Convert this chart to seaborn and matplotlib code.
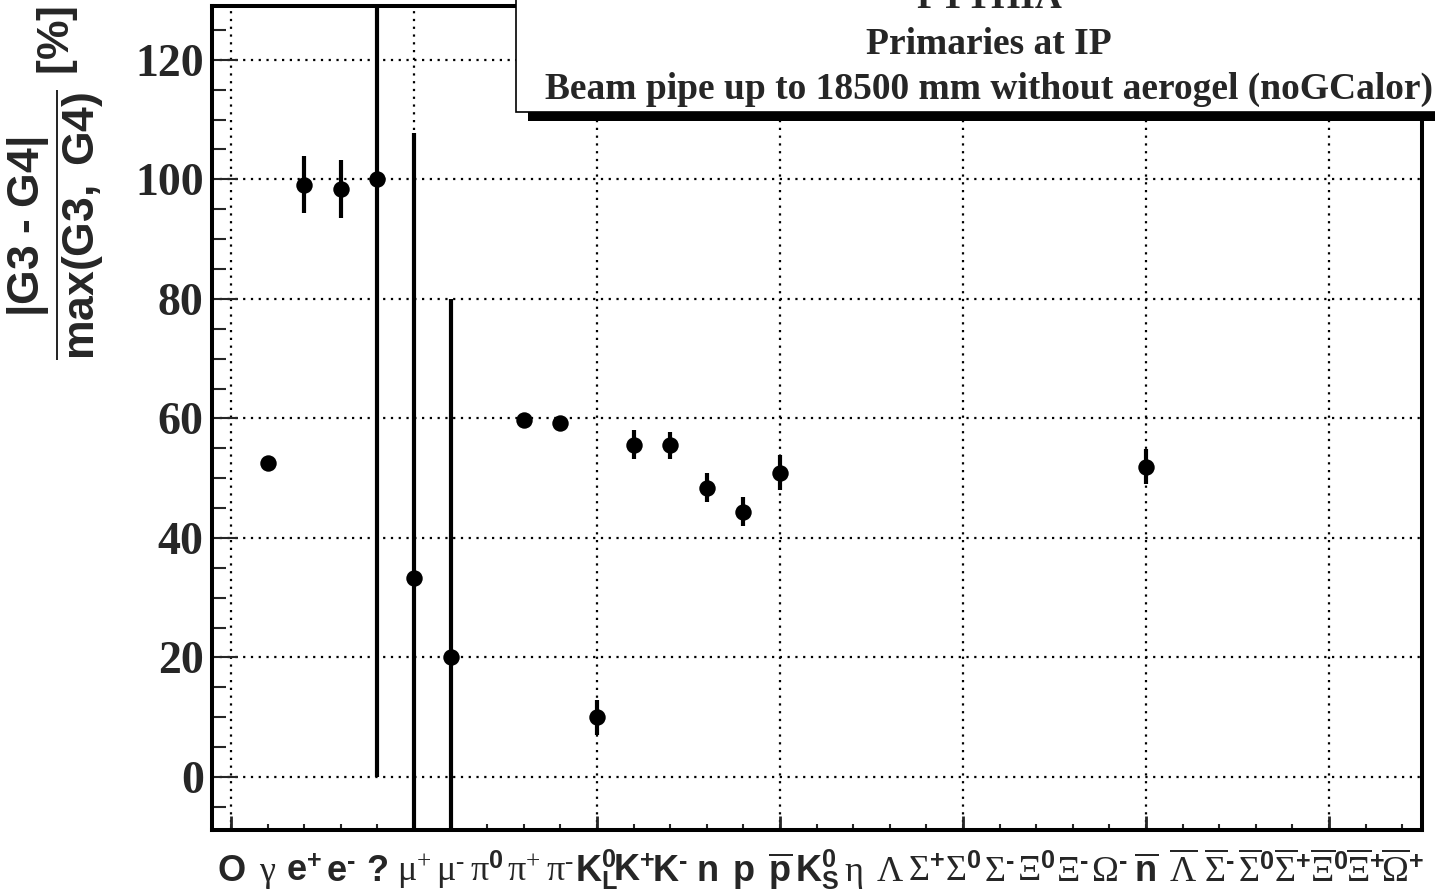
import numpy as np
import pandas as pd
import seaborn as sns
import matplotlib
matplotlib.use('Agg')
from matplotlib import pyplot as plt
from matplotlib.ticker import MultipleLocator
from matplotlib.patches import Rectangle

# particle species along the x axis (index = bin)
particles = ['O', 'gamma', 'e+', 'e-', '?', 'mu+', 'mu-', 'pi0', 'pi+', 'pi-',
             'K0L', 'K+', 'K-', 'n', 'p', 'pbar', 'K0S', 'eta', 'Lambda',
             'Sigma+', 'Sigma0', 'Sigma-', 'Xi0', 'Xi-', 'Omega-', 'nbar',
             'Lambdabar', 'Sigmabar-', 'Sigmabar0', 'Sigmabar+', 'Xibar0',
             'Xibar+', 'Omegabar+']
HY = '\u2010'  # short hyphen used as superscript minus
tick_labels = [r'$\mathbf{O}$', r'$\gamma$', r'$\mathbf{e}^{\mathbf{+}}$', r'$\mathbf{e}^{\mathbf{%s}}$' % HY,
               r'$\mathbf{?}$', r'$\mu^{+}$', r'$\mu^{%s}$' % HY, r'$\pi^{\mathbf{0}}$', r'$\pi^{+}$', r'$\pi^{%s}$' % HY,
               r'$\mathbf{K}_{\mathbf{L}}^{\mathbf{0}}$', r'$\mathbf{K}^{\mathbf{+}}$', r'$\mathbf{K}^{\mathbf{%s}}$' % HY,
               r'$\mathbf{n}$', r'$\mathbf{p}$', r'$\overline{\mathbf{p}}$',
               r'$\mathbf{K}_{\mathbf{S}}^{\mathbf{0}}$', r'$\eta$', r'$\Lambda$',
               r'$\Sigma^{\mathbf{+}}$', r'$\Sigma^{\mathbf{0}}$', r'$\Sigma^{\mathbf{%s}}$' % HY,
               r'$\Xi^{\mathbf{0}}$', r'$\Xi^{\mathbf{%s}}$' % HY, r'$\Omega^{\mathbf{%s}}$' % HY, r'$\overline{\mathbf{n}}$',
               r'$\overline{\Lambda}$', r'$\overline{\Sigma}^{\mathbf{%s}}$' % HY, r'$\overline{\Sigma}^{\mathbf{0}}$',
               r'$\overline{\Sigma}^{\mathbf{+}}$', r'$\overline{\Xi}^{\mathbf{0}}$', r'$\overline{\Xi}^{\mathbf{+}}$',
               r'$\overline{\Omega}^{\mathbf{+}}$']
nan = np.nan
# |G3 - G4| / max(G3, G4) in percent, and its error
asym = [nan, 52.5, 99.1, 98.4, 100.0, 33.3, 20.0, nan, 59.7, 59.3,
        10.0, 55.6, 55.5, 48.4, 44.4, 50.9, nan, nan, nan,
        nan, nan, nan, nan, nan, nan, 51.9,
        nan, nan, nan, nan, nan, nan, nan]
asym_err = [0, 0.5, 4.8, 4.8, 100.0, 74.5, 60.0, 0, 1.0, 1.0,
            2.9, 2.4, 2.3, 2.4, 2.4, 2.9, 0, 0, 0,
            0, 0, 0, 0, 0, 0, 2.9,
            0, 0, 0, 0, 0, 0, 0]

df = pd.DataFrame({'particle': particles, 'idx': np.arange(len(particles)),
                   'asym': asym, 'err': asym_err}).dropna()

sns.set_theme(style='white')
plt.rcParams['font.family'] = ['Liberation Serif', 'DejaVu Sans']
plt.rcParams['mathtext.fontset'] = 'custom'
plt.rcParams['mathtext.rm'] = 'Liberation Serif:weight=normal'
plt.rcParams['mathtext.it'] = 'Liberation Serif:weight=normal'
plt.rcParams['mathtext.bf'] = 'Liberation Sans:bold'
plt.rcParams['mathtext.default'] = 'rm'

W, H = 1435, 893
fig = plt.figure(figsize=(W / 100, H / 100), dpi=100)
ax = fig.add_axes([212 / W, 1 - 830 / H, 1210 / W, 824 / H])

ax.errorbar(df['idx'], df['asym'], yerr=df['err'], fmt='none', ecolor='black',
            elinewidth=3, capsize=0, zorder=2)
sns.scatterplot(data=df, x='idx', y='asym', color='black', s=140, linewidth=0,
                legend=False, zorder=3, ax=ax)

ax.set_xlim(-0.52, 32.54)
ax.set_ylim(-8.87, 129.0)

ax.set_xticks(np.arange(len(particles)))
ax.set_xticklabels(tick_labels, fontsize=26)
ax.xaxis.set_minor_locator(MultipleLocator(5))
ax.xaxis.remove_overlapping_locs = False
ax.yaxis.set_major_locator(MultipleLocator(20))
ax.yaxis.set_minor_locator(MultipleLocator(5))

ax.tick_params(axis='x', which='major', direction='in', length=4, width=1.5,
               pad=37, bottom=True, top=False)
ax.tick_params(axis='x', which='minor', direction='in', length=10, width=2,
               bottom=True, top=False)
ax.tick_params(axis='y', which='major', direction='in', length=19, width=1.5,
               labelsize=33, pad=6, left=True, right=False)
ax.tick_params(axis='y', which='minor', direction='in', length=10, width=1.5,
               left=True, right=False)
for lbl in ax.get_yticklabels():
    lbl.set_fontweight('bold')
# line the particle names up on a common baseline
for lbl in ax.get_xticklabels():
    lbl.set_verticalalignment('baseline')

grid_kw = dict(color='black', linestyle=(0, (1, 2.5)), linewidth=1.6)
ax.grid(False)
ax.grid(which='major', axis='y', **grid_kw)
ax.grid(which='minor', axis='x', **grid_kw)

for sp in ax.spines.values():
    sp.set_color('black')
    sp.set_linewidth(2.9)

ax.set_xlabel('')
ax.set_ylabel(r'$\dfrac{\mathbf{|G3\ %s\ G4|}}{\mathbf{max(G3,\ G4)}}\ \mathbf{[\%%]}$' % HY,
              fontsize=32, loc='top')
ax.yaxis.set_label_coords(-0.088, 1.0)

# title pave with shadow
fig.add_artist(Rectangle((528 / W, 1 - 121 / H), 1, 0.2, transform=fig.transFigure,
                         facecolor='black', edgecolor='none', zorder=5))
fig.add_artist(Rectangle((516 / W, 1 - 112 / H), 1, 0.2, transform=fig.transFigure,
                         facecolor='white', edgecolor='black', linewidth=1.2, zorder=6))
title_kw = dict(ha='center', va='baseline', fontsize=27, fontweight='bold', zorder=7)
fig.text(989 / W, 1 - 8 / H, 'PYTHIA', **title_kw)
fig.text(989 / W, 1 - 54 / H, 'Primaries at IP', **title_kw)
fig.text(989 / W, 1 - 99 / H, 'Beam pipe up to 18500 mm without aerogel (noGCalor)', **title_kw)

fig.savefig('out.png', dpi=100)
